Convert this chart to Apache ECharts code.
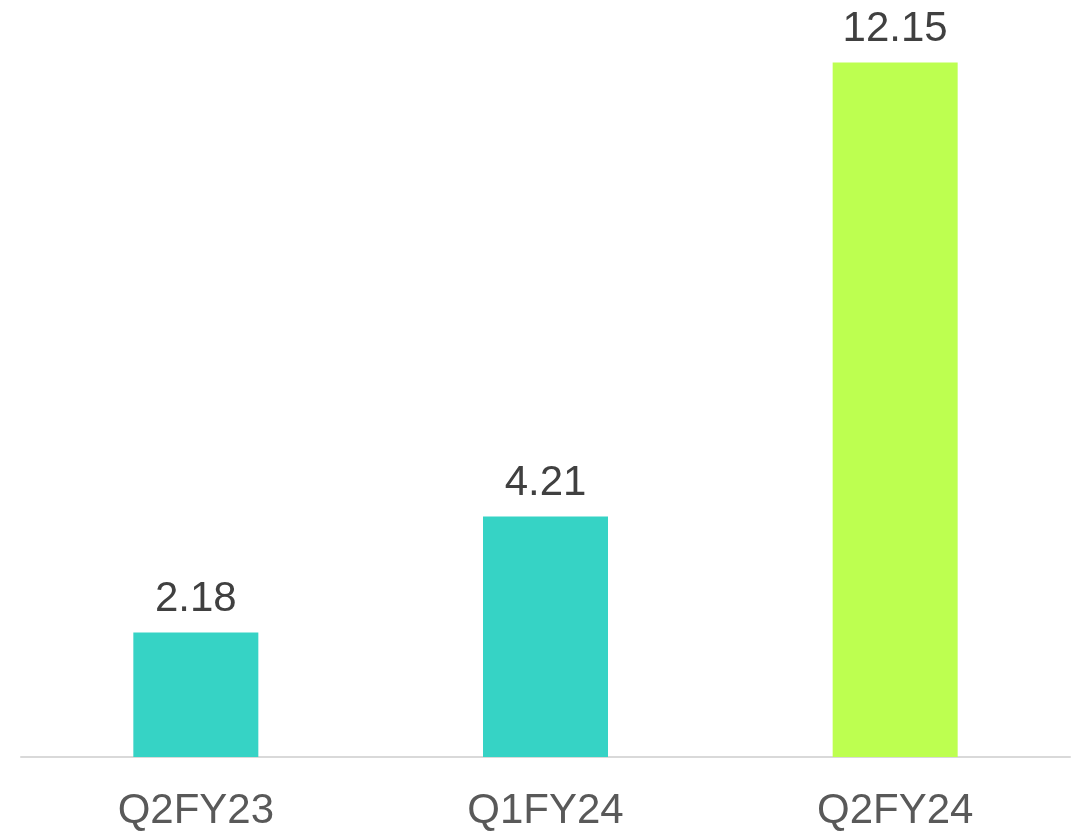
<!DOCTYPE html>
<html lang="en">
<head>
    <meta charset="UTF-8">
    <script src="https://cdn.jsdelivr.net/npm/echarts@6.0.0/dist/echarts.min.js"></script>
    <style type="text/css">
        html, body { margin: 0; padding: 0; background: #ffffff; }
        #chart { width: 1076px; height: 832px; }
    </style>
    <title>Quarterly values</title>
</head>
<body>
    <div id="chart"></div>
    <script>
        // data
        var quarters = ['Q2FY23', 'Q1FY24', 'Q2FY24'];
        var values = [2.18, 4.21, 12.15];
        var barColors = ['#36d3c5', '#36d3c5', '#bdff50'];

        var chart = echarts.init(document.getElementById('chart'));

        var option = {
            animation: false,
            grid: {
                left: 21,
                right: 6,
                top: 14,
                bottom: 75
            },
            xAxis: {
                type: 'category',
                data: quarters,
                axisLine: { lineStyle: { color: '#d9d9d9', width: 2 } },
                axisTick: { show: false },
                axisLabel: {
                    color: '#595959',
                    fontSize: 42,
                    fontFamily: 'Liberation Sans',
                    margin: 33
                }
            },
            yAxis: {
                type: 'value',
                min: 0,
                max: 13,
                show: false,
                splitLine: { show: false }
            },
            series: [
                {
                    type: 'bar',
                    barWidth: 125,
                    data: values.map(function (v, i) {
                        return { value: v, itemStyle: { color: barColors[i] } };
                    }),
                    label: {
                        show: true,
                        position: 'top',
                        distance: 12,
                        color: '#404040',
                        fontSize: 42,
                        fontFamily: 'Liberation Sans'
                    }
                }
            ]
        };

        chart.setOption(option);
    </script>
</body>
</html>
